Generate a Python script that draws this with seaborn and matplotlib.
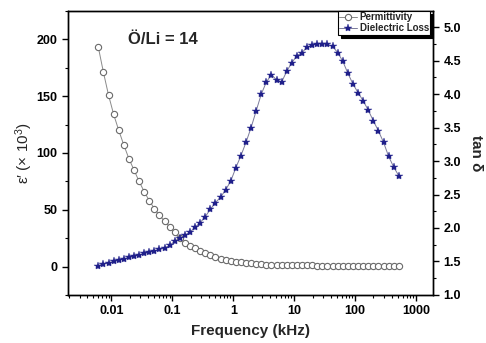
import numpy as np
import matplotlib
matplotlib.use('Agg')
import matplotlib.pyplot as plt
import seaborn as sns
from matplotlib.ticker import MultipleLocator, FixedLocator, FuncFormatter, NullFormatter, FormatStrFormatter

# Frequency sweep (kHz)
freq_khz = [0.0061, 0.00739, 0.00896, 0.01087, 0.01317, 0.01597, 0.01936, 0.02347, 0.02845, 0.03448,
            0.0418, 0.0507, 0.0614, 0.0745, 0.0903, 0.1094, 0.1327, 0.1608, 0.1949, 0.2363,
            0.2864, 0.3472, 0.4209, 0.5102, 0.6185, 0.7497, 0.9088, 1.102, 1.336, 1.619,
            1.962, 2.379, 2.884, 3.496, 4.237, 5.137, 6.227, 7.548, 9.15, 11.09,
            13.45, 16.3, 19.76, 23.95, 29.04, 35.2, 42.67, 51.72, 62.7, 76.01,
            92.14, 111.7, 135.4, 164.1, 199.0, 241.2, 292.4, 354.4, 429.6, 520.8]

# real permittivity (x 10^3)
permittivity = [193, 171, 151, 134, 120, 107, 95, 85, 75, 66,
                58, 51, 45, 40, 35, 30, 25, 21, 18, 16,
                14, 12, 10, 8.5, 7, 6, 5, 4.3, 3.7, 3.2,
                2.8, 2.4, 2.1, 1.8, 1.6, 1.4, 1.3, 1.2, 1.1, 1.1,
                1.0, 1.0, 1.0, 0.9, 0.9, 0.9, 0.9, 0.8, 0.8, 0.8,
                0.8, 0.8, 0.7, 0.7, 0.7, 0.7, 0.7, 0.7, 0.7, 0.7]

# loss tangent
tan_delta = [1.44, 1.46, 1.48, 1.50, 1.52, 1.54, 1.56, 1.58, 1.60, 1.62,
             1.64, 1.66, 1.68, 1.70, 1.74, 1.80, 1.85, 1.89, 1.94, 2.01,
             2.08, 2.17, 2.28, 2.38, 2.46, 2.57, 2.70, 2.90, 3.08, 3.28,
             3.50, 3.75, 4.00, 4.18, 4.29, 4.21, 4.18, 4.34, 4.47, 4.57,
             4.62, 4.70, 4.73, 4.75, 4.75, 4.74, 4.71, 4.62, 4.49, 4.31,
             4.15, 4.02, 3.90, 3.76, 3.60, 3.45, 3.28, 3.07, 2.91, 2.78]

x_ticks = [0.01, 0.1, 1, 10, 100, 1000]
x_minor = [m * 10.0 ** e for e in range(-3, 4) for m in range(2, 10)
           if 0.00194 < m * 10.0 ** e < 1900]

sns.set_style('ticks')
plt.rcParams['font.family'] = ['Liberation Sans', 'DejaVu Sans']
plt.rcParams['font.weight'] = 'bold'
plt.rcParams['mathtext.default'] = 'regular'

fig = plt.figure(figsize=(4.86, 3.43), dpi=100)
ax = fig.add_axes([0.14, 0.140, 0.751, 0.828])
ax2 = ax.twinx()

# Permittivity (left axis)
sns.lineplot(x=freq_khz, y=permittivity, ax=ax, color='#8a8a8a', lw=0.7,
             marker='o', markersize=4.5, markerfacecolor='white',
             markeredgecolor='#6a6a6a', markeredgewidth=0.8)
l1 = ax.lines[-1]

# Dielectric loss (right axis)
sns.lineplot(x=freq_khz, y=tan_delta, ax=ax2, color='#7a7a9a', lw=0.7,
             marker='*', markersize=6, markerfacecolor='#1f1f8a',
             markeredgecolor='#1f1f8a', markeredgewidth=0.3)
l2 = ax2.lines[-1]

ax.set_xscale('log')
ax.set_xlim(0.00194, 1900)
ax.set_ylim(-25, 225)
ax2.set_ylim(1.0, 5.24)

ax.xaxis.set_major_locator(FixedLocator(x_ticks))
ax.xaxis.set_major_formatter(FuncFormatter(lambda v, p: f'{v:g}'))
ax.xaxis.set_minor_locator(FixedLocator(x_minor))
ax.xaxis.set_minor_formatter(NullFormatter())
ax.yaxis.set_major_locator(MultipleLocator(50))
ax.yaxis.set_minor_locator(MultipleLocator(25))
ax2.yaxis.set_major_locator(MultipleLocator(0.5))
ax2.yaxis.set_minor_locator(MultipleLocator(0.25))
ax2.yaxis.set_major_formatter(FormatStrFormatter('%.1f'))

for a in (ax, ax2):
    a.tick_params(which='major', direction='out', length=4, width=1, labelsize=9, colors='black')
    a.tick_params(which='minor', direction='out', length=2.5, width=0.8, colors='black')
    for s in a.spines.values():
        s.set_visible(True)
        s.set_color('black')
        s.set_linewidth(1)

ax.set_xlabel('Frequency (kHz)', fontsize=11, fontweight='bold', labelpad=5)
ax.set_ylabel('ε′ (× 10$^{3}$)', fontsize=11, fontweight='normal', labelpad=1)
ax2.set_ylabel('tan δ', fontsize=11, fontweight='bold', rotation=270, labelpad=16)

ax.text(0.26, 0.898, 'Ö/Li = 14', transform=ax.transAxes, fontsize=12,
        fontweight='bold', ha='center', va='center')

leg = ax2.legend(handles=[l1, l2], labels=['Permittivity', 'Dielectric Loss'],
                 loc='upper right', bbox_to_anchor=(0.993, 1.0), borderaxespad=0,
                 frameon=True, fancybox=False, edgecolor='black', framealpha=1,
                 shadow={'color': 'black', 'alpha': 1},
                 prop={'weight': 'bold', 'size': 7}, handlelength=1.8,
                 handletextpad=0.3, borderpad=0.15, labelspacing=0.1)
leg.get_frame().set_linewidth(0.8)

fig.savefig('out.png', dpi=100)
